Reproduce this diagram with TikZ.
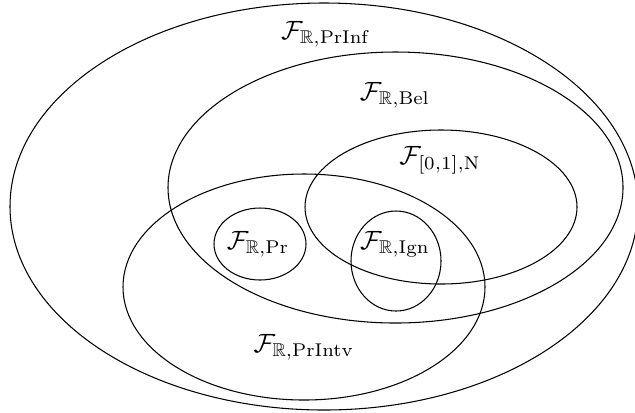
\documentclass[tikz,border=0pt]{standalone}
\usepackage{amsmath, amssymb}
\usepackage{tikz}
\usetikzlibrary{positioning}

\begin{document}
\begin{tikzpicture}[
    x=0.0133cm, y=-0.0133cm,
    set/.style={draw=black, line width=0.4pt},
    setlabel/.style={inner sep=0pt}
  ]
  \useasboundingbox (0,0) rectangle (635,412);
  % the sets
  \draw[set] (324,206.5) ellipse [x radius=314, y radius=203.5];
  \draw[set] (395.5,187.5) ellipse [x radius=227.5, y radius=135.5];
  \draw[set] (441,207) ellipse [x radius=136, y radius=77];
  \draw[set] (304,287) ellipse [x radius=181, y radius=113];
  \draw[set] (260,244) ellipse [x radius=46, y radius=36];
  \draw[set] (396,261) ellipse [x radius=45, y radius=50];
  % labels
  \node[setlabel] (prinf)  at (326,34)  {$\mathcal{F}_{\mathbb{R},\mathrm{PrInf}}$};
  \node[setlabel] (bel)    at (395,95)  {$\mathcal{F}_{\mathbb{R},\mathrm{Bel}}$};
  \node[setlabel] (nec)    at (440,160) {$\mathcal{F}_{[0,1],\mathrm{N}}$};
  \node[setlabel] (pr)     at (258,244) {$\mathcal{F}_{\mathbb{R},\mathrm{Pr}}$};
  \node[setlabel] (ign)    at (395,244) {$\mathcal{F}_{\mathbb{R},\mathrm{Ign}}$};
  \node[setlabel] (printv) at (304,347) {$\mathcal{F}_{\mathbb{R},\mathrm{PrIntv}}$};
\end{tikzpicture}
\end{document}
